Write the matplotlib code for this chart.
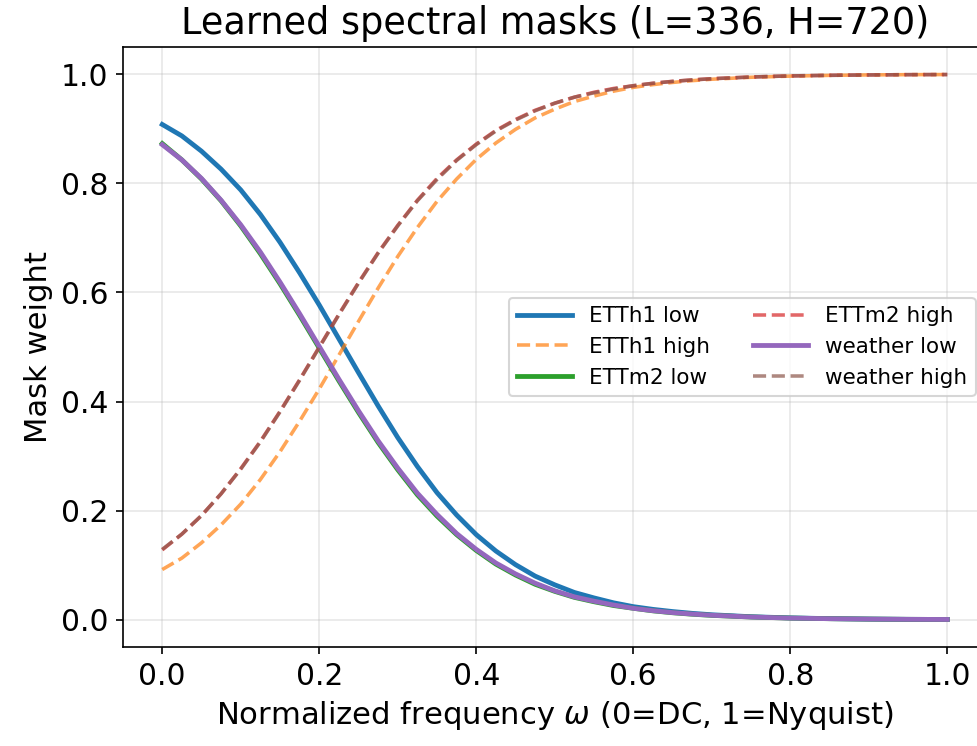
import matplotlib
matplotlib.use("Agg")
import matplotlib.pyplot as plt

freq = [0.000, 0.025, 0.050, 0.075, 0.100, 0.125, 0.150, 0.175, 0.200, 0.225,
        0.250, 0.275, 0.300, 0.325, 0.350, 0.375, 0.400, 0.425, 0.450, 0.475,
        0.500, 0.525, 0.550, 0.575, 0.600, 0.625, 0.650, 0.675, 0.700,
        0.750, 0.800, 0.850, 0.900, 0.950, 1.000]

etth1_low = [0.908, 0.887, 0.859, 0.826, 0.788, 0.743, 0.692, 0.636, 0.577, 0.515,
             0.453, 0.392, 0.334, 0.281, 0.233, 0.192, 0.156, 0.126, 0.101, 0.080,
             0.064, 0.050, 0.040, 0.031, 0.024, 0.019, 0.015, 0.0117, 0.0091,
             0.0055, 0.0034, 0.0020, 0.0012, 0.0007, 0.0005]
etth1_high = [0.092, 0.113, 0.141, 0.174, 0.212, 0.257, 0.308, 0.364, 0.423, 0.485,
              0.547, 0.608, 0.666, 0.719, 0.767, 0.808, 0.844, 0.874, 0.899, 0.920,
              0.936, 0.950, 0.960, 0.969, 0.976, 0.981, 0.985, 0.9883, 0.9909,
              0.9945, 0.9966, 0.9980, 0.9988, 0.9993, 0.9995]

ettm2_low = [0.873, 0.843, 0.808, 0.768, 0.722, 0.671, 0.616, 0.558, 0.498, 0.438,
             0.380, 0.325, 0.275, 0.229, 0.190, 0.156, 0.127, 0.102, 0.082, 0.065,
             0.052, 0.041, 0.033, 0.026, 0.021, 0.0163, 0.0128, 0.0101, 0.0080,
             0.0050, 0.0030, 0.0019, 0.0012, 0.0007, 0.0005]
ettm2_high = [0.128, 0.157, 0.191, 0.231, 0.277, 0.327, 0.382, 0.440, 0.500, 0.560,
              0.618, 0.673, 0.723, 0.769, 0.809, 0.843, 0.872, 0.897, 0.917, 0.934,
              0.947, 0.958, 0.967, 0.974, 0.979, 0.9835, 0.9870, 0.9897, 0.9919,
              0.9950, 0.9970, 0.9981, 0.9988, 0.9993, 0.9995]

weather_low = [0.871, 0.843, 0.809, 0.769, 0.724, 0.674, 0.619, 0.561, 0.501, 0.441,
               0.383, 0.328, 0.278, 0.232, 0.193, 0.158, 0.129, 0.104, 0.084, 0.067,
               0.053, 0.042, 0.034, 0.027, 0.021, 0.0166, 0.0131, 0.0104, 0.0082,
               0.0050, 0.0030, 0.0019, 0.0012, 0.0007, 0.0005]
weather_high = [0.129, 0.157, 0.191, 0.231, 0.276, 0.326, 0.381, 0.439, 0.499, 0.559,
                0.617, 0.672, 0.722, 0.768, 0.807, 0.842, 0.871, 0.896, 0.916, 0.933,
                0.947, 0.958, 0.966, 0.973, 0.979, 0.9834, 0.9869, 0.9896, 0.9918,
                0.9950, 0.9970, 0.9980, 0.9988, 0.9993, 0.9995]

x_ticks = [0.0, 0.2, 0.4, 0.6, 0.8, 1.0]
y_ticks = [0.0, 0.2, 0.4, 0.6, 0.8, 1.0]

W, H, DPI = 977, 746, 150
fig = plt.figure(figsize=(W / DPI, H / DPI), dpi=DPI)
ax = fig.add_axes([123 / W, 1 - 647 / H, 863.5 / W, 600 / H])

lw_low, lw_high, a_high = 2.3, 1.7, 0.7
ax.plot(freq, etth1_low, color="C0", lw=lw_low, label="ETTh1 low")
ax.plot(freq, etth1_high, color="C1", lw=lw_high, ls="--", alpha=a_high, label="ETTh1 high")
ax.plot(freq, ettm2_low, color="C2", lw=lw_low, label="ETTm2 low")
ax.plot(freq, ettm2_high, color="C3", lw=lw_high, ls="--", alpha=a_high, label="ETTm2 high")
ax.plot(freq, weather_low, color="C4", lw=lw_low, label="weather low")
ax.plot(freq, weather_high, color="C5", lw=lw_high, ls="--", alpha=a_high, label="weather high")

ax.set_xlim(-0.05, 1.05)
ax.set_ylim(-0.05, 1.05)
ax.set_xticks(x_ticks)
ax.set_yticks(y_ticks)
ax.tick_params(labelsize=14.3)
ax.grid(True, alpha=0.3)
ax.set_xlabel(r"Normalized frequency $\omega$ (0=DC, 1=Nyquist)", fontsize=14.7)
ax.set_ylabel("Mask weight", fontsize=14.7)
ax.set_title("Learned spectral masks (L=336, H=720)", fontsize=17.6)
ax.legend(loc="center right", ncol=2, fontsize=10.3, handlelength=2.55)

fig.savefig("out.png", dpi=DPI)
